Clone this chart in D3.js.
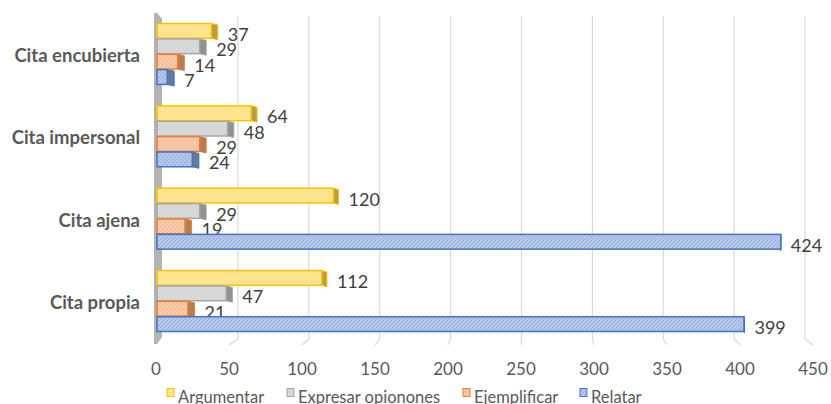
<!DOCTYPE html>
<html><head><meta charset="utf-8">
<script src="https://cdn.jsdelivr.net/npm/d3@7"></script>
<style>body{margin:0;background:#fff}svg{display:block}</style>
</head><body><svg id="c" width="831" height="404"></svg>
<script>
const categories = ["Cita encubierta","Cita impersonal","Cita ajena","Cita propia"];
const seriesNames = ["Argumentar","Expresar opionones","Ejemplificar","Relatar"];
const argumentar = [37,64,120,112];
const expresar = [29,48,29,47];
const ejemplificar = [14,29,19,21];
const relatar = [7,24,424,399];
const tickValues = [0,50,100,150,200,250,300,350,400,450];
const strokeColors = ["#FFC000","#A5A5A5","#ED7D31","#4472C4"];
const fillColors = ["#FFE699","#DBDBDB","#F8CBAD","#B4C7E7"];

const seriesValues = [argumentar, expresar, ejemplificar, relatar];
const svg = d3.select("#c");
const font = "Lato, 'Open Sans', sans-serif";

// patterns
const defs = svg.append("defs");
seriesNames.forEach((s,i)=>{
  const p = defs.append("pattern").attr("id","hatch"+i).attr("patternUnits","userSpaceOnUse")
    .attr("width",4).attr("height",4);
  p.append("rect").attr("width",4).attr("height",4).attr("fill",fillColors[i]);
  p.append("path").attr("d","M-1,1 l2,-2 M0,4 l4,-4 M3,5 l2,-2")
    .attr("stroke",strokeColors[i]).attr("stroke-opacity",0.35).attr("stroke-width",0.8);
});

const xFront = d3.scaleLinear().domain([0,450]).range([156,813]);
const xBar = d3.scaleLinear().domain([0,450]).range([157,819]);
const y = d3.scaleBand().domain(categories).range([13,342]).paddingInner(0.245).paddingOuter(0.12);
const yInner = d3.scaleBand().domain(seriesNames).range([0,y.bandwidth()]).padding(0.04);
const backX = v => 0.971*xFront(v) + 15.6;

// gridlines
svg.append("g").selectAll("path").data(tickValues.filter(v=>v>0)).join("path")
  .attr("d", v => `M${backX(v)},16 L${backX(v)},339 L${xFront(v)},345`)
  .attr("fill","none").attr("stroke","#D9D9D9").attr("stroke-width",1.2);

// wall
svg.append("path").attr("d","M154,13 L157,13 L162,19 L162,337 L157,344 L154,344 Z")
  .attr("fill","#B3B3B3");

// tick labels
svg.append("g").selectAll("text").data(tickValues).join("text")
  .attr("x", v=>xFront(v)).attr("y",368).attr("text-anchor","middle").attr("dominant-baseline","central")
  .attr("font-family",font).attr("font-size",17).attr("fill","#595959").text(v=>v);

// category labels
svg.append("g").selectAll("text").data(categories).join("text")
  .attr("x",140).attr("y",c=>y(c)+y.bandwidth()/2+1).attr("text-anchor","end").attr("dominant-baseline","central")
  .attr("font-family",font).attr("font-weight","bold").attr("font-size",18.5).attr("fill","#595959").text(c=>c);

// bars
const sideW = xe => Math.max(0,(790-xe)*0.011);
const bars = [];
categories.forEach((c,ci)=>{
  seriesNames.forEach((s,si)=>{
    bars.push({c, s, si, v: seriesValues[si][ci]});
  });
});
const g = svg.append("g");
bars.forEach(d=>{
  const y0 = y(d.c)+yInner(d.s), h = yInner.bandwidth();
  const x0 = xBar(0), xe = xBar(d.v), w = sideW(xe);
  const sideFill = d3.interpolateRgb(strokeColors[d.si], "#7f7f7f")(0.55);
  g.append("path").attr("d",`M${xe},${y0} L${xe+w},${y0+1.5} L${xe+w},${y0+h+1.5} L${xe},${y0+h} Z`)
    .attr("fill",sideFill).attr("stroke",strokeColors[d.si]).attr("stroke-width",1);
  g.append("rect").attr("x",x0).attr("y",y0).attr("width",xe-x0).attr("height",h)
    .attr("fill",`url(#hatch${d.si})`).attr("stroke",strokeColors[d.si]).attr("stroke-width",1.5);
  g.append("text").attr("x",xe+w+10).attr("y",y0+h/2+3).attr("dominant-baseline","central")
    .attr("font-family",font).attr("font-size",18).attr("fill","#404040").text(d.v);
});

// legend
const legendX = [167,287,463,580];
const lg = svg.append("g");
seriesNames.forEach((s,i)=>{
  lg.append("rect").attr("x",legendX[i]).attr("y",388.5).attr("width",7).attr("height",8)
    .attr("fill",`url(#hatch${i})`).attr("stroke",strokeColors[i]).attr("stroke-width",1);
  lg.append("text").attr("x",legendX[i]+11).attr("y",396.5).attr("dominant-baseline","central")
    .attr("font-family",font).attr("font-size",16.5).attr("fill","#595959").text(s);
});
</script></body></html>
